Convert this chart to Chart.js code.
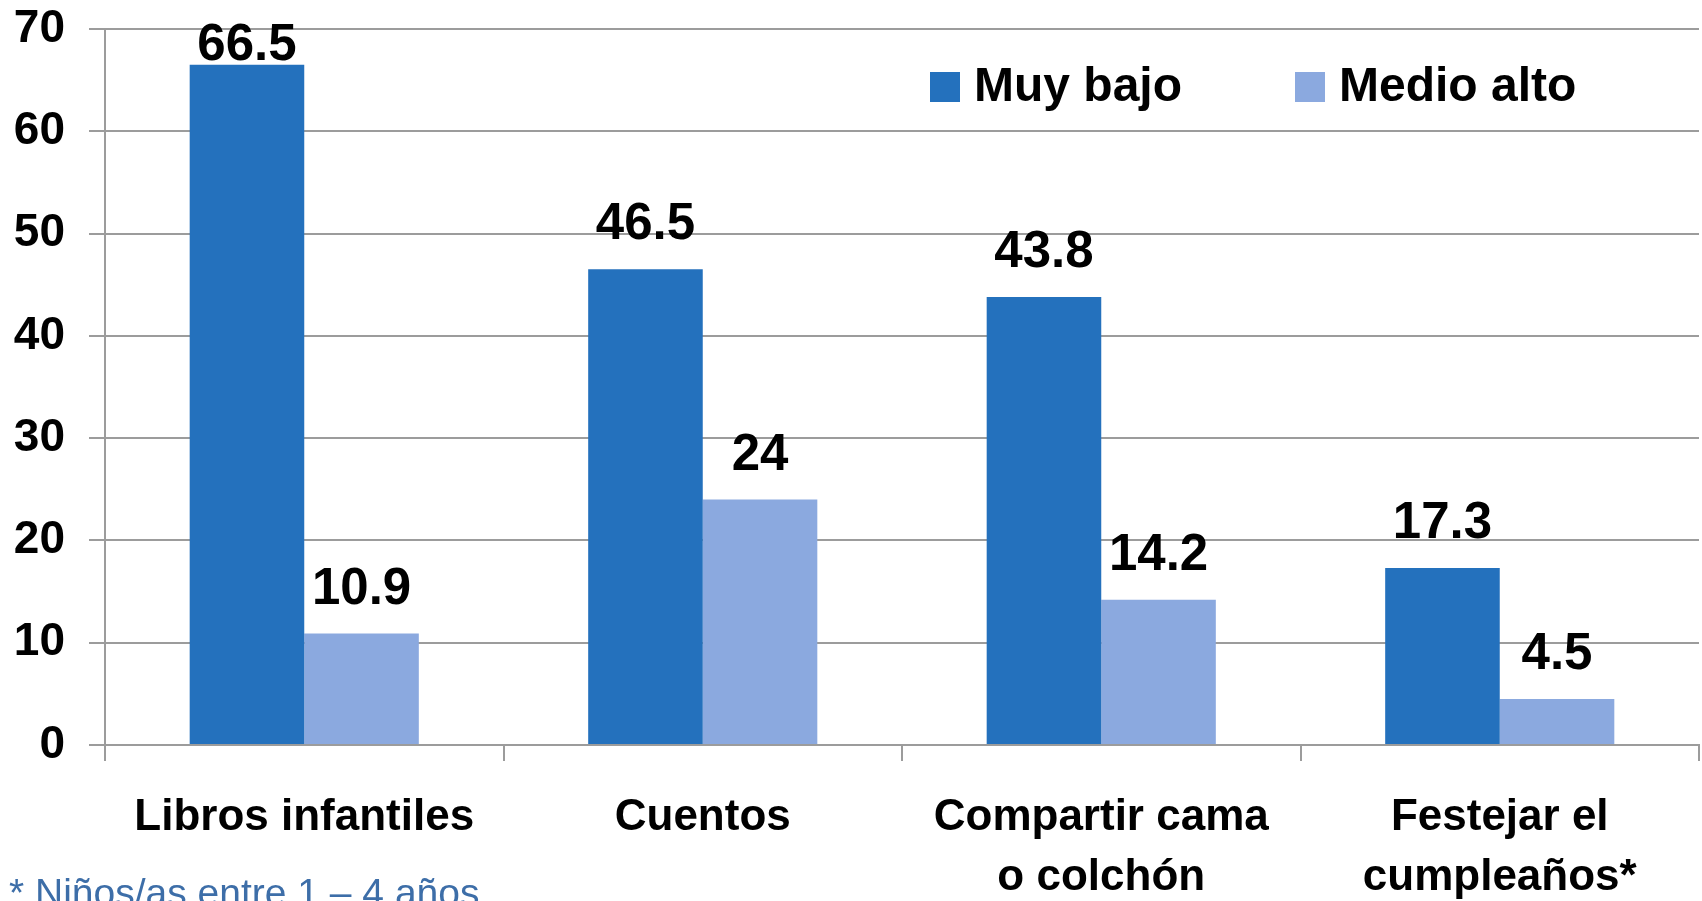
<!DOCTYPE html>
<html>
<head>
<meta charset="utf-8">
<script src="https://cdn.jsdelivr.net/npm/chart.js@4/dist/chart.umd.min.js"></script>
<style>
  html, body { margin: 0; padding: 0; background: #fff; }
  #wrap { width: 1702px; height: 901px; position: relative; }
</style>
</head>
<body>
<div id="wrap"><canvas id="barChart"></canvas></div>
<script>
var categories = ['Libros infantiles', 'Cuentos', ['Compartir cama', 'o colchón'], ['Festejar el', 'cumpleaños*']]
var seriesNames = ['Muy bajo', 'Medio alto']
var muyBajo = [66.5, 46.5, 43.8, 17.3]
var medioAlto = [10.9, 24, 14.2, 4.5]
var yTicks = [0, 10, 20, 30, 40, 50, 60, 70]
var footnote = '* Niños/as entre 1 – 4 años'

var FONT = '"Liberation Sans", Arial, sans-serif'
var GRID = '#9c9c9c'

// value labels above each bar
var valueLabels = {
    id: 'valueLabels',
    afterDatasetsDraw: function(chart) {
        var ctx = chart.ctx
        ctx.save()
        ctx.font = 'bold 51px ' + FONT
        ctx.fillStyle = '#000'
        ctx.textAlign = 'center'
        ctx.textBaseline = 'alphabetic'
        chart.data.datasets.forEach(function(ds, i) {
            chart.getDatasetMeta(i).data.forEach(function(bar, j) {
                var y = Math.max(bar.y - 30, chart.chartArea.top + 31)
                ctx.fillText(String(ds.data[j]), bar.x, y)
            })
        })
        ctx.restore()
    }
}

// legend drawn inside the plot area, top right
var innerLegend = {
    id: 'innerLegend',
    afterDraw: function(chart) {
        var ctx = chart.ctx
        var xs = [930, 1295]
        ctx.save()
        ctx.font = 'bold 48px ' + FONT
        ctx.textBaseline = 'middle'
        ctx.textAlign = 'left'
        chart.data.datasets.forEach(function(ds, i) {
            ctx.fillStyle = ds.backgroundColor
            ctx.fillRect(xs[i], 72, 30, 30)
            ctx.fillStyle = '#000'
            ctx.fillText(ds.label, xs[i] + 44, 88)
        })
        // footnote
        ctx.font = '39px ' + FONT
        ctx.fillStyle = '#3d6ea8'
        ctx.textBaseline = 'alphabetic'
        ctx.fillText(footnote, 9, 906)
        ctx.restore()
    }
}

var barCanvas = document.getElementById('barChart').getContext('2d')
var barChart = new Chart(barCanvas, {
    type: 'bar',
    data: {
        labels: categories,
        datasets: [{
            label: seriesNames[0],
            data: muyBajo,
            backgroundColor: '#2471bd'
        }, {
            label: seriesNames[1],
            data: medioAlto,
            backgroundColor: '#8ba9df'
        }]
    },
    options: {
        responsive: true,
        maintainAspectRatio: false,
        animation: false,
        datasets: {
            bar: {
                categoryPercentage: 0.575,
                barPercentage: 1
            }
        },
        layout: {
            padding: { top: 29, right: 3, left: 0, bottom: 0 }
        },
        plugins: {
            legend: { display: false },
            tooltip: { enabled: false }
        },
        scales: {
            x: {
                offset: true,
                grid: {
                    offset: true,
                    drawOnChartArea: false,
                    drawTicks: true,
                    tickLength: 16,
                    color: GRID,
                    lineWidth: 2
                },
                border: { color: GRID, width: 2 },
                ticks: {
                    color: '#000',
                    padding: 27,
                    maxRotation: 0,
                    autoSkip: false,
                    font: { family: FONT, size: 44, weight: 'bold', lineHeight: 1.36 }
                },
                afterFit: function(scale) { scale.height = 156 }
            },
            y: {
                min: 0,
                max: 70,
                afterBuildTicks: function(scale) {
                    scale.ticks = yTicks.map(function(v) { return { value: v } })
                },
                grid: {
                    color: GRID,
                    lineWidth: 2,
                    drawTicks: true,
                    tickLength: 16
                },
                border: { color: GRID, width: 2 },
                ticks: {
                    color: '#000',
                    padding: 24,
                    font: { family: FONT, size: 46, weight: 'bold' }
                },
                afterFit: function(scale) {
                    scale.width = 105
                    scale.paddingTop = 0
                    scale.paddingBottom = 0
                }
            }
        }
    },
    plugins: [valueLabels, innerLegend]
})
</script>
</body>
</html>
